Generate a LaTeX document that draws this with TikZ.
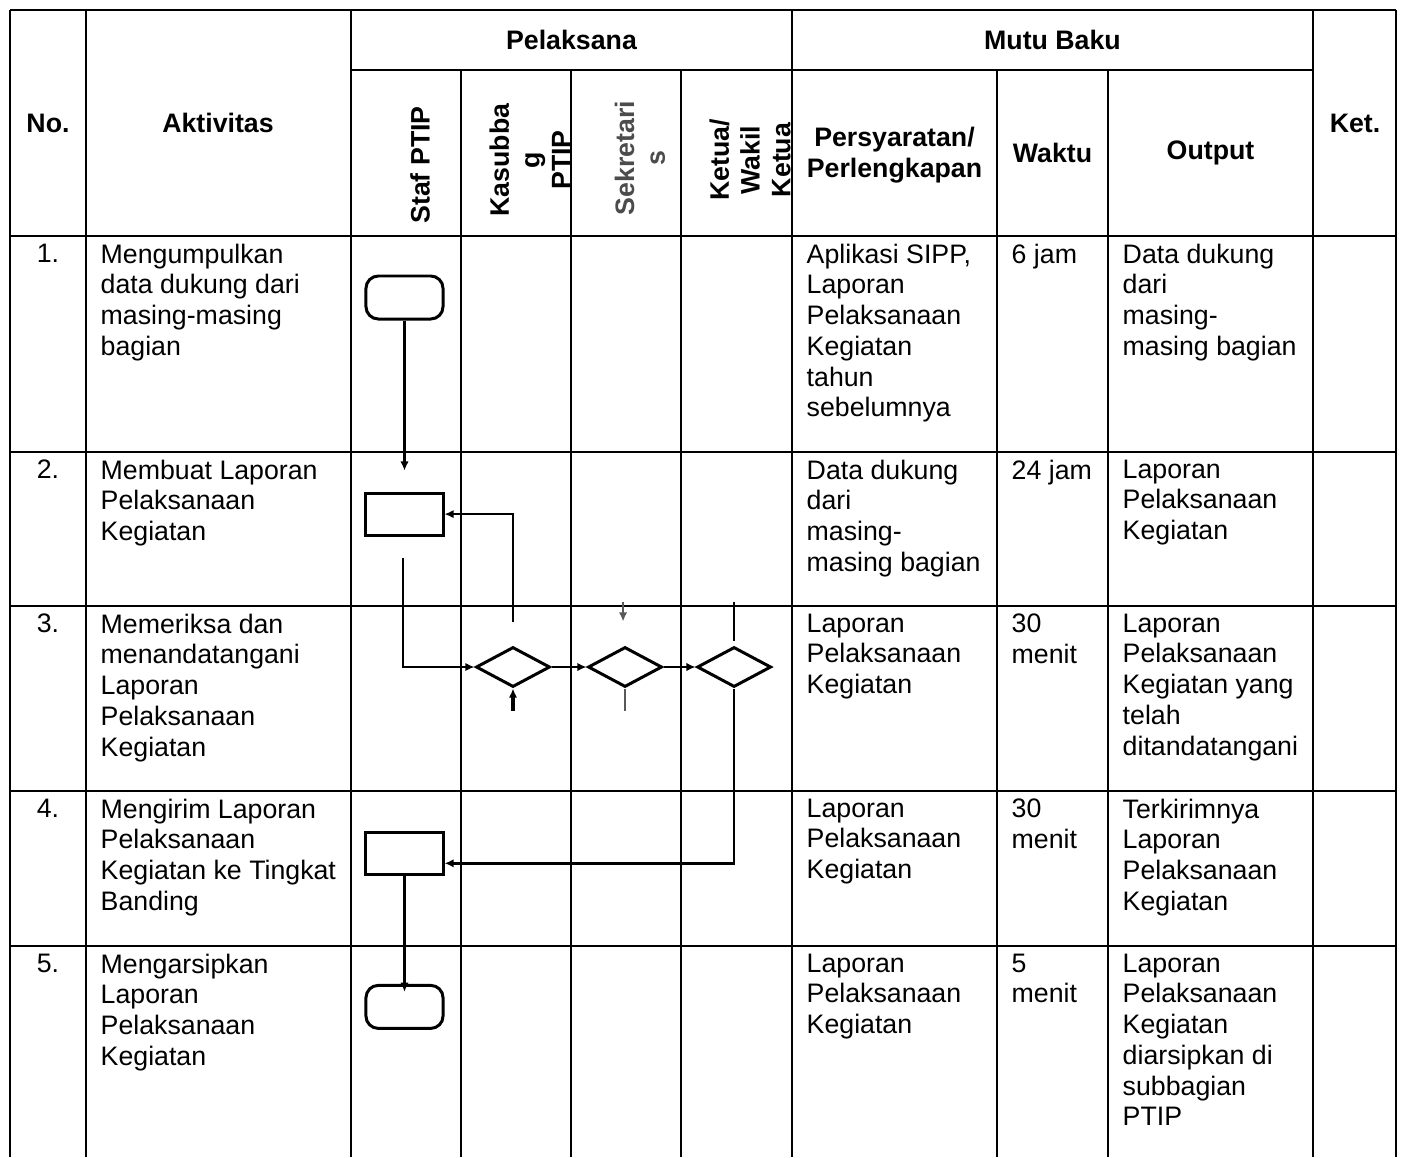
\documentclass[tikz,border=0pt]{standalone}
\usepackage{fontspec}
\setmainfont{Liberation Sans}
\usetikzlibrary{shapes.geometric, arrows.meta, calc, positioning}

\tikzset{
  grid/.style={line width=0.55pt},
  txt/.style={inner sep=0pt, font=\fontsize{7.6}{8.75}\selectfont},
  cell/.style={txt, anchor=north west, align=left},
  num/.style={txt, anchor=north},
  head/.style={txt, align=center, font=\fontsize{7.6}{8.75}\selectfont\bfseries},
  lane/.style={head, rotate=90},
  term/.style={draw, line width=0.85pt, rounded corners=3.5pt, minimum width=0.77cm, minimum height=0.43cm},
  proc/.style={draw, line width=0.85pt, minimum width=0.77cm, minimum height=0.42cm},
  dec/.style={draw, diamond, line width=0.85pt, inner sep=0pt, minimum width=0.74cm, minimum height=0.40cm},
  flow/.style={line width=0.75pt, -{Latex[length=2.6pt,width=2.4pt]}},
  link/.style={line width=0.75pt},
}

\begin{document}
\begin{tikzpicture}[x=0.01cm, y=-0.01cm]
  \useasboundingbox (0,0) rectangle (1403,1157);

  % Table grid
  \draw[grid] (10,10) -- (1396,10);
  \draw[grid] (351,70) -- (1313,70);
  \foreach \y in {236,452,606,791,946}
    \draw[grid] (10,\y) -- (1396,\y);
  \foreach \x in {10,86,351,792,1313,1396}
    \draw[grid] (\x,10) -- (\x,1157);
  \foreach \x in {461,571,681,997,1108}
    \draw[grid] (\x,70) -- (\x,1157);

  % Header
  \node[head] (hno)   at (48,123)     {No.};
  \node[head] (hakt)  at (218,123)    {Aktivitas};
  \node[head] (hpel)  at (571.5,40)   {Pelaksana};
  \node[head] (hmutu) at (1052.5,40)  {Mutu Baku};
  \node[head] (hket)  at (1355,123)   {Ket.};
  \node[head] (hsyar) at (894.5,155)  {Persyaratan/\\Perlengkapan};
  \node[head] (hwkt)  at (1052.5,153) {Waktu};
  \node[head] (hout)  at (1210.5,153) {Output};

  \node[lane] (staf)  at (420,165) {Staf PTIP};
  \node[lane] (kasub) at (530,160) {Kasubba\\g\\PTIP};
  \node[lane, text=black!70] (sekr) at (640,158) {Sekretari\\s};
  \node[lane] (ketua) at (750,160) {Ketua/\\Wakil\\Ketua};

  % Row 1
  \node[num]  (n1) at (48,243)   {1.};
  \node[cell] (a1) at (100,243)  {Mengumpulkan\\data dukung dari\\masing-masing\\bagian};
  \node[cell] (p1) at (806,243)  {Aplikasi SIPP,\\Laporan\\Pelaksanaan\\Kegiatan\\tahun\\sebelumnya};
  \node[cell] (w1) at (1011,243) {6 jam};
  \node[cell] (o1) at (1122,243) {Data dukung\\dari\\masing-\\masing bagian};

  % Row 2
  \node[num]  (n2) at (48,459)   {2.};
  \node[cell] (a2) at (100,459)  {Membuat Laporan\\Pelaksanaan\\Kegiatan};
  \node[cell] (p2) at (806,459)  {Data dukung\\dari\\masing-\\masing bagian};
  \node[cell] (w2) at (1011,459) {24 jam};
  \node[cell] (o2) at (1122,459) {Laporan\\Pelaksanaan\\Kegiatan};

  % Row 3
  \node[num]  (n3) at (48,613)   {3.};
  \node[cell] (a3) at (100,613)  {Memeriksa dan\\menandatangani\\Laporan\\Pelaksanaan\\Kegiatan};
  \node[cell] (p3) at (806,613)  {Laporan\\Pelaksanaan\\Kegiatan};
  \node[cell] (w3) at (1011,613) {30\\menit};
  \node[cell] (o3) at (1122,613) {Laporan\\Pelaksanaan\\Kegiatan yang\\telah\\ditandatangani};

  % Row 4
  \node[num]  (n4) at (48,798)   {4.};
  \node[cell] (a4) at (100,798)  {Mengirim Laporan\\Pelaksanaan\\Kegiatan ke Tingkat\\Banding};
  \node[cell] (p4) at (806,798)  {Laporan\\Pelaksanaan\\Kegiatan};
  \node[cell] (w4) at (1011,798) {30\\menit};
  \node[cell] (o4) at (1122,798) {Terkirimnya\\Laporan\\Pelaksanaan\\Kegiatan};

  % Row 5
  \node[num]  (n5) at (48,953)   {5.};
  \node[cell] (a5) at (100,953)  {Mengarsipkan\\Laporan\\Pelaksanaan\\Kegiatan};
  \node[cell] (p5) at (806,953)  {Laporan\\Pelaksanaan\\Kegiatan};
  \node[cell] (w5) at (1011,953) {5\\menit};
  \node[cell] (o5) at (1122,953) {Laporan\\Pelaksanaan\\Kegiatan\\diarsipkan di\\subbagian\\PTIP};

  % Flow symbols
  \node[term] (start) at (404.5,297.5) {};
  \node[proc, below=1.71cm of start] (lapor) {};
  \node[proc, below=2.94cm of lapor] (kirim) {};
  \node[term, below=1.08cm of kirim] (arsip) {};
  \node[dec] (cekA) at (513,667) {};
  \node[dec, right=0.35cm of cekA] (cekB) {};
  \node[dec, right=0.32cm of cekB] (cekC) {};

  % Free ends
  \coordinate (tipA)  at ($(lapor.north)+(0,-21)$);
  \coordinate (outA)  at ($(lapor.south)+(-1.5,21)$);
  \coordinate (backA) at ($(cekA.north)+(0,-24)$);
  \coordinate (upA)   at ($(cekA.south)+(0,22)$);
  \coordinate (topB1) at ($(cekB.north)+(-2,-44)$);
  \coordinate (topB2) at ($(cekB.north)+(-2,-24)$);
  \coordinate (botB)  at ($(cekB.south)+(0,22)$);
  \coordinate (topC1) at ($(cekC.north)+(0,-44)$);
  \coordinate (topC2) at ($(cekC.north)+(0,-5)$);

  % Connectors
  \draw[flow] (start.south) -- (tipA);
  \draw[flow] (outA) |- (cekA.west);
  \draw[flow] (backA) |- (lapor.east);
  \draw[flow, line width=1pt] (upA) -- (cekA.south);
  \draw[flow] (cekA.east) -- (cekB.west);
  \draw[flow, black!65] (topB1) -- (topB2);
  \draw[link, black!65] (cekB.south) -- (botB);
  \draw[flow] (cekB.east) -- (cekC.west);
  \draw[link] (topC1) -- (topC2);
  \draw[flow] (cekC.south) |- ($(kirim.east)+(0,10)$);
  \draw[flow] (kirim.south) -- ($(arsip.north)+(0,8)$);

\end{tikzpicture}
\end{document}
